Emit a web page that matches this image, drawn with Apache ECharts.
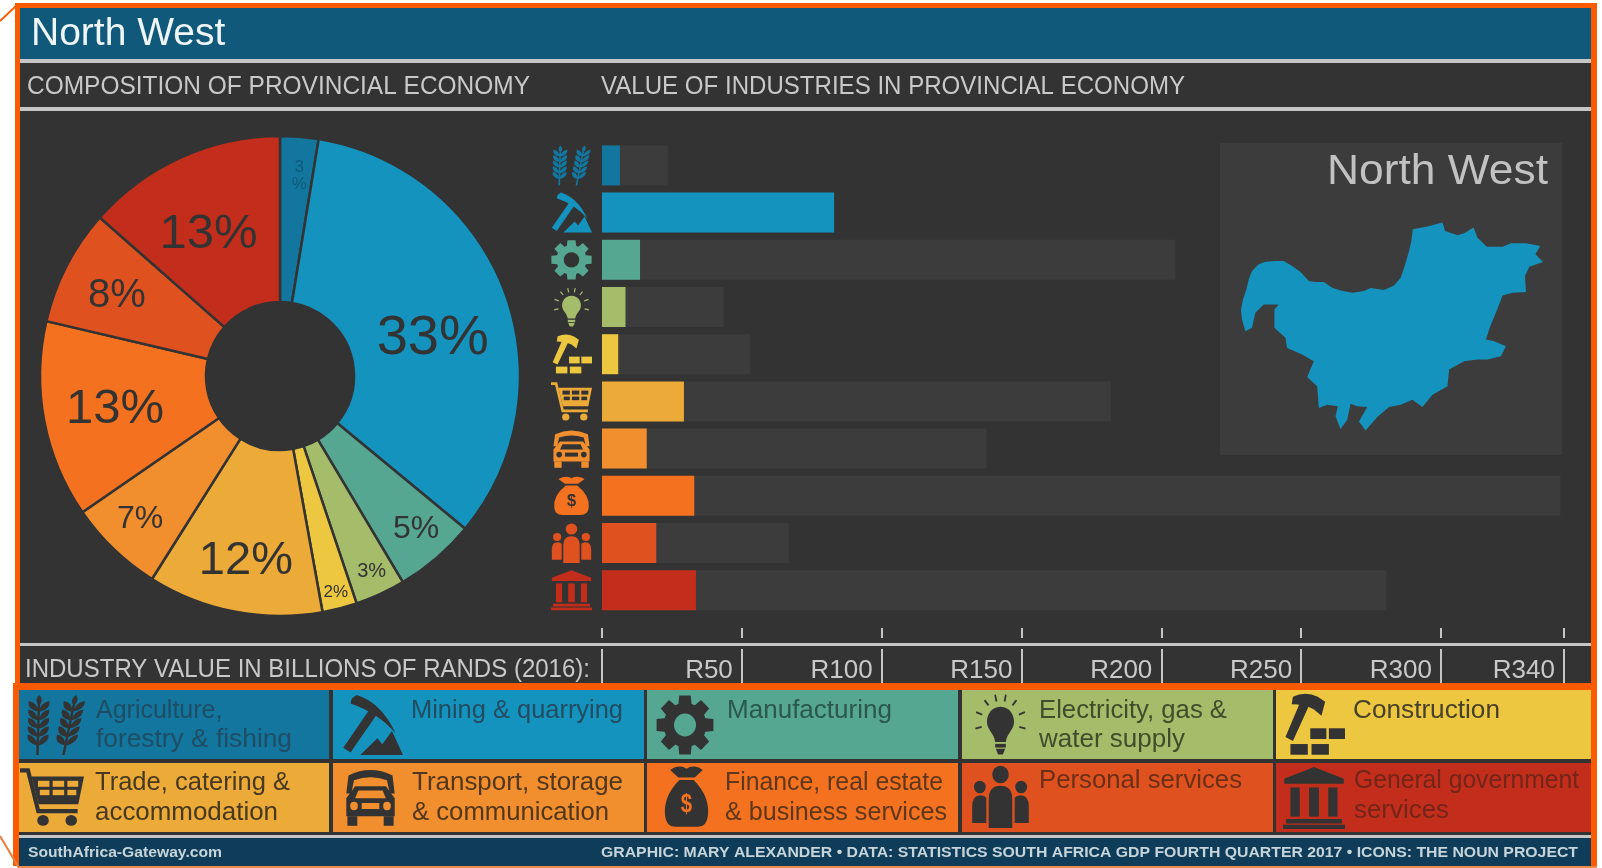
<!DOCTYPE html>
<html>
<head>
<meta charset="utf-8">
<style>html,body{margin:0;padding:0;background:#fff}#chart{width:1602px;height:868px}</style>
<script src="https://cdn.jsdelivr.net/npm/echarts@6/dist/echarts.min.js"></script>
</head>
<body>
<div id="chart"></div>
<script>
// ---- data ----
const categories = ['Agriculture, forestry & fishing','Mining & quarrying','Manufacturing','Electricity, gas & water supply','Construction','Trade, catering & accommodation','Transport, storage & communication','Finance, real estate & business services','Personal services','General government services'];
const provinceValues = [6.4, 83, 13.6, 8.4, 5.8, 29.3, 16, 33, 19.4, 33.6];
const nationalValues = [23.6, 83, 205, 43.6, 53, 182, 137.5, 342.7, 66.8, 280.5];
const shareLabels = ['3\n%','33%','5%','3%','2%','12%','7%','13%','8%','13%'];
const shareFontSizes = [17,56,32,20,17,47,32,49,40,49];
const shareLabelRadii = [211,157,203,214,221,186,199,168,184,161];
const shareLabelNudges = [[2,13],[3,19],[2,-3],[1,-2],[0,-1],[2,0],[0,-3],[3,2],[3,6],[-4,8]];
const tickLabels = {0:'',50:'R50',100:'R100',150:'R150',200:'R200',250:'R250',300:'R300',344:'R340'};
const colors = ['#13769f','#1593bf','#56a792','#a5bd6b','#edc73f','#ecaa38','#f18e2e','#f3711f','#df5220','#c22e1b'];
const legendLines = [['Agriculture,','forestry & fishing'],['Mining & quarrying'],['Manufacturing'],['Electricity, gas &','water supply'],['Construction'],['Trade, catering &','accommodation'],['Transport, storage','& communication'],['Finance, real estate','& business services'],['Personal services'],['General government','services']];
const legendInk = ['#1f4d64','#234c60','#2c574c','#3f4d2b','#47402a','#46391f','#52371d','#5e371c','#6b2f18','#722518'];
const provinceOutline = [[122,540],[128,510],[138,480],[145,450],[155,425],[175,405],[195,397],[225,395],[250,395],[275,410],[300,428],[325,455],[345,458],[370,458],[395,475],[420,483],[455,490],[490,485],[510,476],[550,482],[580,468],[600,445],[612,410],[625,365],[632,335],[636,300],[680,292],[725,280],[733,305],[770,318],[790,312],[818,295],[830,325],[858,352],[905,352],[930,342],[975,342],[1018,350],[1003,375],[1026,398],[985,412],[972,440],[975,488],[935,490],[905,498],[885,550],[868,590],[855,630],[880,635],[915,650],[900,680],[860,690],[830,690],[790,695],[745,720],[740,770],[695,795],[665,832],[635,810],[600,825],[565,832],[530,862],[495,902],[475,875],[500,832],[470,830],[450,822],[440,870],[420,898],[405,860],[412,830],[380,825],[355,835],[350,770],[320,742],[340,695],[305,675],[260,655],[255,625],[222,595],[222,540],[235,525],[190,525],[165,550],[155,595],[135,605],[125,570],[122,540]];

// ---- palette and layout ----
const BG='#333333', TRACK='#3c3c3c', RULE='#c6c6c6', ORANGE='#fb5a00', TEXT='#c9c9c9', FONT='"Liberation Sans"';
const grid = {left:602, top:141.8, width:962, height:472};

// ---- icons in a 100x100 box: each layer is [pathData, isHole] ----
const circle=(x,y,r)=>`M${x-r} ${y}A${r} ${r} 0 1 1 ${x+r} ${y}A${r} ${r} 0 1 1 ${x-r} ${y}Z`;
const rect=(x,y,w,h)=>`M${x} ${y}L${x+w} ${y}L${x+w} ${y+h}L${x} ${y+h}Z`;
function stalk(cx,k){
  const p=(x,y)=>`${(cx+x+(100-y)*k).toFixed(1)} ${y}`;
  let d=`M${p(-2,10)}L${p(2,10)}L${p(2,100)}L${p(-2,100)}Z`;
  d+=`M${p(0,18)}Q${p(-9,8)} ${p(0,0)}Q${p(9,8)} ${p(0,18)}Z`;
  for(let i=0;i<5;i++){const y=12+i*14;
    d+=`M${p(-1,y+16)}Q${p(-19,y+12)} ${p(-17,y-2)}Q${p(-2,y+1)} ${p(-1,y+16)}Z`;
    d+=`M${p(1,y+16)}Q${p(2,y+1)} ${p(17,y-2)}Q${p(19,y+12)} ${p(1,y+16)}Z`;}
  return d;
}
function gearPath(){
  let d='';const n=8;
  for(let i=0;i<n;i++){const a=i/n*2*Math.PI;
    const pts=[[a-.31,37],[a-.2,50],[a+.2,50],[a+.31,37]];
    pts.forEach((q,j)=>{d+=((i===0&&j===0)?'M':'L')+(50+q[1]*Math.sin(q[0])).toFixed(1)+' '+(50-q[1]*Math.cos(q[0])).toFixed(1);});}
  return d+'Z';
}
function rays(){
  let d='';[-105,-70,-38,-12,12,38,70,105].forEach(t=>{const a=t*Math.PI/180,s=Math.sin(a),c=Math.cos(a);
    const P=(r,o)=>(50+r*s+o*c).toFixed(1)+' '+(46-r*c+o*s).toFixed(1);
    d+=`M${P(33,-1.5)}L${P(33,1.5)}L${P(44,1.5)}L${P(44,-1.5)}Z`;});
  return d;
}
const iconLayers = [
  [[stalk(20,0.03)+stalk(62,0.2),false]],
  [['M2 88L48 20L60 28L14 96Z',false],['M16 6L24 0Q64 12 88 64Q60 30 14 14Z',false],['M30 100L58 72L66 82L82 60L100 100Z',false]],
  [[gearPath(),false],[circle(50,50,19),true]],
  [[rays(),false],['M50 22C34 22 27 36 27 46C27 60 39 64 41 79L59 79C61 64 73 60 73 46C73 36 66 22 50 22Z',false],[rect(41,82,18,6),false],['M42 90L58 90L54 99L46 99Z',false]],
  [['M4 70L28 14L42 20L16 76Z',false],['M16 6Q36 -4 56 6L68 14L62 36L50 26Q34 18 14 18Z',false],[rect(44,56,26,17),false],[rect(74,56,26,17),false],[rect(12,81,28,17),false],[rect(46,81,28,17),false]],
  [['M0 2L15 2L31 70L90 70L90 77L26 77L10 9L0 9Z',false],['M18 16L100 16L91 62L29 62Z',false],[rect(28,23,18,10),true],[rect(51,23,18,10),true],[rect(74,23,17,10),true],[rect(31,38,15,9),true],[rect(51,38,18,9),true],[rect(74,38,14,9),true],[circle(36,89,9),false],[circle(80,89,9),false]],
  [['M10 14Q50 -4 90 14L94 44L85 44L80 22Q50 12 20 22L15 44L6 44Z',false],['M6 52L22 32L78 32L94 52L94 82L6 82Z',false],['M28 39L72 39L78 52L22 52Z',true],[circle(20,65,7),true],[circle(80,65,7),true],[rect(34,60,32,10),true],[rect(8,82,18,16),false],[rect(74,82,18,16),false]],
  [['M26 4Q40 0 50 6Q60 0 74 4L82 8L66 20L34 20L18 8Z',false],['M36 24L64 24Q96 50 92 80Q90 98 72 98L28 98Q10 98 8 80Q4 50 36 24Z',false]],
  [[circle(50,15,14),false],['M30 100L30 55Q30 33 50 33Q70 33 70 55L70 100Z',false],[circle(15,35,10),false],[circle(85,35,10),false],['M2 92L2 66Q2 48 16 48Q23 48 26 52L26 92Z',false],['M74 92L74 52Q77 48 84 48Q98 48 98 66L98 92Z',false]],
  [['M50 0L98 19L98 27L2 27L2 19Z',false],[rect(12,33,15,47),false],[rect(42,33,16,47),false],[rect(73,33,15,47),false],[rect(5,84,90,7),false],[rect(0,93,100,7),false]]
];
const iconJobs=[];
function icon(i,x,y,w,h,fill,hole){ iconJobs.push({i,x,y,w,h,fill,hole}); }
function renderIcon(params){
  const j=iconJobs[params.dataIndex];
  const children=iconLayers[j.i].map(l=>({type:'path',shape:{pathData:l[0]},style:{fill:l[1]?j.hole:j.fill}}));
  if(j.i===7) children.push({type:'text',style:{text:'$',x:50,y:64,font:'bold 40px '+FONT,fill:j.hole,align:'center',verticalAlign:'middle'}});
  return {type:'group',x:j.x,y:j.y,scaleX:j.w/100,scaleY:j.h/100,children};
}

// ---- helpers for page furniture ----
const mctx=document.createElement('canvas').getContext('2d');
function fitText(text,x,y,font,fill,width){
  mctx.font=font;
  return {type:'text',x,y,z:20,scaleX:width?width/mctx.measureText(text).width:1,style:{text,x:0,y:0,font,fill,align:'left',verticalAlign:'middle'}};
}
const box=(x,y,w,h,fill,z)=>({type:'rect',z:z==null?-5:z,shape:{x,y,width:w,height:h},style:{fill}});

const elements=[];
// dark page
elements.push(box(20,8,1571,675,BG,-9), box(19,690,1572,145,BG,-9));
// header and rules
elements.push(box(20,8,1571,51,'#10597a'), box(20,59,1571,4,RULE), box(20,107,1571,4,RULE), box(20,643,1571,3,RULE));
// footer
elements.push(box(19,835,1572,3,RULE), box(19,838,1572,28,'#0f3c58'));
// orange frame
elements.push(box(15,3,1582,5,ORANGE,5), box(15,3,5,680,ORANGE,5), box(1591,3,6,680,ORANGE,5), box(13,683,1584,7,ORANGE,5), box(13,690,6,176,ORANGE,5), box(1591,690,6,178,ORANGE,5), box(19,866,1578,2,'#ee8a4e',5));
elements.push({type:'line',z:5,shape:{x1:0,y1:21,x2:17,y2:5},style:{stroke:ORANGE,lineWidth:2}});
elements.push({type:'line',z:5,shape:{x1:0,y1:836,x2:19,y2:868},style:{stroke:'#ee7a3e',lineWidth:2}});
// headings
elements.push(fitText('COMPOSITION OF PROVINCIAL ECONOMY',27,87,'26px '+FONT,TEXT,503));
elements.push(fitText('VALUE OF INDUSTRIES IN PROVINCIAL ECONOMY',601,87,'26px '+FONT,TEXT,584));
elements.push(fitText('INDUSTRY VALUE IN BILLIONS OF RANDS (2016):',25,670,'26px '+FONT,TEXT,565));
// footer text
elements.push(fitText('SouthAfrica-Gateway.com',28,853,'bold 14px '+FONT,'#c6d4db',194));
elements.push(fitText('GRAPHIC: MARY ALEXANDER \u2022 DATA: STATISTICS SOUTH AFRICA GDP FOURTH QUARTER 2017 \u2022 ICONS: THE NOUN PROJECT',601,853,'bold 14px '+FONT,'#c6d4db',977));
// map panel
elements.push(box(1220,143,342,312,TRACK,-4));
elements.push(fitText('North West',1327,172,'43px '+FONT,'#c2c2c2',221));
// row icons beside the bars
const band=grid.height/categories.length;
categories.forEach((c,i)=>{
  const cy=grid.top+band*(i+.5);
  icon(i,551,cy-20,41,40,colors[i],BG);
});
// legend cells
const cellX=[[19,310],[333,311],[647,311],[962,311],[1276,315]];
const cellRow=[[690,69],[763,69]];
const iconBoxes=[[25,695,62,60],[342,695,61,60],[656,695,58,60],[971,693,59,62],[1283,693,62,63],[20,767,64,60],[343,767,55,60],[661,765,51,63],[971,765,59,63],[1283,767,62,62]];
const textX=[96,411,727,1039,1353,95,412,725,1039,1354];
const textW=[[null,196],[212],[165],[188,146],[147],[195,183],[211,197],[218,222],[203],[225,95]];
categories.forEach((c,i)=>{
  const col=i%5,row=i<5?0:1;
  elements.push(box(cellX[col][0],cellRow[row][0],cellX[col][1],cellRow[row][1],colors[i],-3));
  const b=iconBoxes[i];
  icon(i,b[0],b[1],b[2],b[3],BG,colors[i]);
  const ys=row===0?[711,740]:(i>=8?[781,811]:[783,813]);
  legendLines[i].forEach((t,j)=>elements.push(fitText(t,textX[i],ys[j],'25px '+FONT,legendInk[i],textW[i][j]||null)));
});

// ---- province outline as a map ----
echarts.registerMap('northWest',{type:'FeatureCollection',features:[{type:'Feature',properties:{name:'North West'},geometry:{type:'Polygon',coordinates:[provinceOutline.map(p=>[p[0],-p[1]])]}}]});

const RMID=(74+240)/2;
const total=provinceValues.reduce((a,b)=>a+b,0);
function labelShift(i){
  const before=provinceValues.slice(0,i).reduce((a,b)=>a+b,0);
  const a=(before+provinceValues[i]/2)/total*2*Math.PI, d=shareLabelRadii[i]-RMID;
  return {dx:d*Math.sin(a)+shareLabelNudges[i][0],dy:-d*Math.cos(a)+shareLabelNudges[i][1]};
}

const chart=echarts.init(document.getElementById('chart'),null,{width:1602,height:868});
chart.setOption({
  animation:false,
  backgroundColor:'#ffffff',
  title:{text:'North West',left:26,top:10,textStyle:{color:'#eef6f9',fontFamily:FONT,fontWeight:'normal',fontSize:39}},
  grid:{left:grid.left,top:grid.top,width:grid.width,height:grid.height,containLabel:false},
  xAxis:[
    {type:'value',min:0,max:344,interval:50,position:'bottom',offset:14.2,splitLine:{show:false},axisLine:{show:false},axisLabel:{show:false},axisTick:{show:true,length:10,lineStyle:{color:RULE,width:2}}},
    {type:'value',min:0,max:344,interval:50,position:'bottom',offset:35.2,splitLine:{show:false},axisLine:{show:false},axisTick:{show:true,length:34,lineStyle:{color:RULE,width:2}},
      axisLabel:{show:true,margin:9,align:'right',padding:[0,9,0,0],color:TEXT,fontFamily:FONT,fontSize:26,formatter:v=>tickLabels[v]||''}}
  ],
  yAxis:{type:'category',inverse:true,data:categories,axisLine:{show:false},axisTick:{show:false},axisLabel:{show:false}},
  geo:{map:'northWest',silent:true,aspectScale:1,roam:false,layoutCenter:[1392,326.5],layoutSize:302,label:{show:false},itemStyle:{areaColor:'#1593bf',borderWidth:0},emphasis:{disabled:true}},
  series:[
    {type:'bar',name:'National',xAxisIndex:0,barWidth:40,barGap:'-100%',silent:true,itemStyle:{color:TRACK},data:nationalValues,z:2},
    {type:'bar',name:'North West',xAxisIndex:0,barWidth:40,barGap:'-100%',silent:true,data:provinceValues.map((v,i)=>({value:v,itemStyle:{color:colors[i]}})),z:3},
    {type:'pie',name:'Composition',center:[280,376],radius:[74,240],startAngle:90,clockwise:true,silent:true,avoidLabelOverlap:false,
      itemStyle:{borderColor:BG,borderWidth:2.5},labelLine:{show:false},
      labelLayout:p=>labelShift(p.dataIndex),
      data:provinceValues.map((v,i)=>({name:categories[i],value:v,itemStyle:{color:colors[i]},
        label:{show:true,position:'inside',formatter:shareLabels[i],fontFamily:FONT,fontSize:shareFontSizes[i],lineHeight:i===0?17:undefined,color:i===0?'#0f5b7e':BG,textBorderWidth:0}}))},
    {type:'custom',name:'Icons',coordinateSystem:'none',silent:true,z:20,clip:false,renderItem:renderIcon,data:iconJobs.map((j,i)=>i)}
  ],
  graphic:{elements}
});
</script>
</body>
</html>
